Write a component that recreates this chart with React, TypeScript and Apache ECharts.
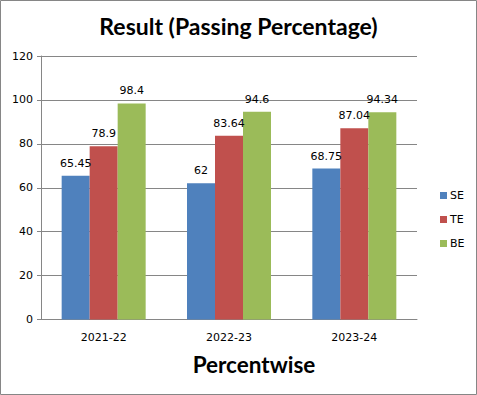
import React, { useEffect, useRef } from "react";
import * as echarts from "echarts";

const categories = ["2021-22", "2022-23", "2023-24"];
const seValues = [65.45, 62, 68.75];
const teValues = [78.9, 83.64, 87.04];
const beValues = [98.4, 94.6, 94.34];
const seriesNames = ["SE", "TE", "BE"];
const colors = ["#4F81BD", "#C0504D", "#9BBB59"];

export default function App() {
  const ref = useRef<HTMLDivElement>(null);
  useEffect(() => {
    if (!ref.current) return;
    const chart = echarts.init(ref.current, null, { renderer: "svg" });
    const labelFont = "'DejaVu Sans', Tahoma, sans-serif";
    const titleFont = "Lato, 'Open Sans', sans-serif";
    const mk = (name: string, data: number[], color: string) => ({
      name,
      type: "bar",
      data,
      barWidth: 28,
      barGap: "0%",
      itemStyle: { color },
      label: {
        show: true,
        position: "top",
        color: "#000",
        fontSize: 11,
        fontFamily: labelFont,
        distance: 7,
      },
    });
    chart.setOption({
      animation: false,
      backgroundColor: "#fff",
      title: {
        text: "Result (Passing Percentage)",
        left: "center",
        top: 9,
        textStyle: { fontSize: 23, fontWeight: "bold", color: "#000", fontFamily: titleFont },
      },
      legend: {
        orient: "vertical",
        left: 435,
        top: 185,
        itemWidth: 7,
        itemHeight: 7,
        itemGap: 13,
        icon: "rect",
        data: seriesNames,
        textStyle: { fontSize: 11, color: "#000", fontFamily: labelFont, padding: [0, 0, 0, -2] },
      },
      grid: { left: 41, top: 56, width: 376, height: 263.5, containLabel: false },
      xAxis: {
        type: "category",
        data: categories,
        name: "Percentwise",
        nameLocation: "middle",
        nameGap: 33,
        nameTextStyle: { fontSize: 22.5, fontWeight: "bold", color: "#000", fontFamily: titleFont, padding: [0, 0, 0, 50] },
        axisLine: { lineStyle: { color: "#868686" } },
        axisTick: { show: false },
        axisLabel: { color: "#000", fontSize: 11, fontFamily: labelFont, margin: 12 },
      },
      yAxis: {
        type: "value",
        min: 0,
        max: 120,
        interval: 20,
        axisLine: { show: true, lineStyle: { color: "#868686" } },
        axisTick: { show: true, length: 4, lineStyle: { color: "#868686" } },
        axisLabel: { color: "#000", fontSize: 11, fontFamily: labelFont, margin: 8 },
        splitLine: { lineStyle: { color: "#868686" } },
      },
      graphic: [
        {
          type: "rect",
          shape: { x: 0.5, y: 0.5, width: 476, height: 394 },
          style: { fill: "none", stroke: "#868686", lineWidth: 1 },
          silent: true,
        },
      ],
      series: [
        mk(seriesNames[0], seValues, colors[0]),
        mk(seriesNames[1], teValues, colors[1]),
        mk(seriesNames[2], beValues, colors[2]),
      ],
    });
    return () => chart.dispose();
  }, []);
  return (
    <div
      ref={ref}
      style={{ position: "fixed", left: 0, top: 0, width: 477, height: 395 }}
    />
  );
}
